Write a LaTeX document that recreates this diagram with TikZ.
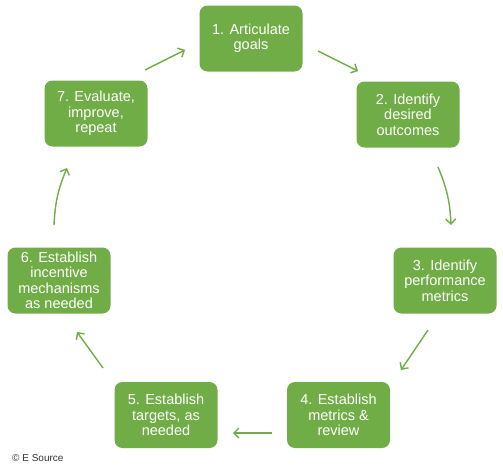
\documentclass[tikz,border=0pt]{standalone}
\usepackage{fontspec}
\setmainfont{Liberation Sans}
\usepackage{xcolor}
\usetikzlibrary{arrows.meta}
\usetikzlibrary{math}
\definecolor{stagegreen}{RGB}{112,173,71}
\definecolor{creditgray}{RGB}{50,50,50}

\begin{document}
\begin{tikzpicture}[x=1pt,y=1pt,
  stage/.style={fill=stagegreen, rounded corners=8pt, minimum width=\W pt, minimum height=\H pt,
    inner sep=2pt, align=center, text=white, font=\fontsize{14.5}{15.5}\selectfont},
  flow/.style={draw=stagegreen, line width=1.4pt, -{Straight Barb[length=5pt,width=10pt]}}]
\tikzmath{
\W=103;%box width
\H=66;%box height
\bnd=10;%bend of side arrows
}
\useasboundingbox (0,0) rectangle (503,-471);

\node[stage] (goals) at (251,-38.5) {1. Articulate\\goals};
\node[stage] (outcomes) at (408,-114.5) {2. Identify\\desired\\outcomes};
\node[stage] (perform) at (445,-280.5) {3. Identify\\performance\\metrics};
\node[stage] (review) at (338.5,-415) {4. Establish\\metrics \&\\review};
\node[stage] (targets) at (166,-415) {5. Establish\\targets, as\\needed};
\node[stage] (incent) at (59,-280.5) {6. Establish\\incentive\\mechanisms\\as needed};
\node[stage] (evaluate) at (96,-113.5) {7. Evaluate,\\improve,\\repeat};

% arrow ends
\coordinate (f1a) at (318,-51);
\coordinate (f1b) at (358,-71);
\coordinate (f2a) at (438,-167);
\coordinate (f2b) at (451,-225);
\coordinate (f3a) at (428,-330);
\coordinate (f3b) at (401,-370);
\coordinate (f4a) at (272,-433);
\coordinate (f4b) at (233,-433);
\coordinate (f5a) at (103,-368);
\coordinate (f5b) at (77,-332);
\coordinate (f6a) at (54,-225);
\coordinate (f6b) at (67,-168);
\coordinate (f7a) at (145,-70);
\coordinate (f7b) at (185,-50);

\draw[flow] (f1a) -- (f1b);
\draw[flow] (f2a) to[bend left=\bnd] (f2b);
\draw[flow] (f3a) -- (f3b);
\draw[flow] (f4a) -- (f4b);
\draw[flow] (f5a) -- (f5b);
\draw[flow] (f6a) to[bend left=\bnd] (f6b);
\draw[flow] (f7a) -- (f7b);

\node[anchor=west, inner sep=0pt, text=creditgray, font=\fontsize{10}{12}\selectfont] (credit) at (12,-458) {\textcopyright{} E Source};
\end{tikzpicture}
\end{document}
